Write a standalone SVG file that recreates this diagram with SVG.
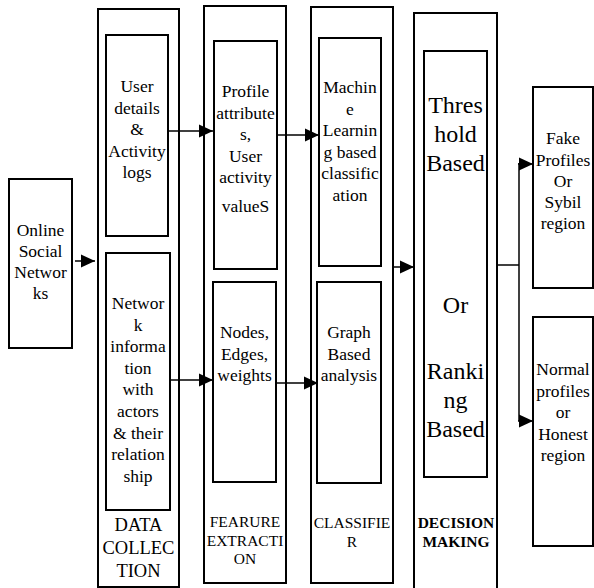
<svg xmlns="http://www.w3.org/2000/svg" width="594" height="588" viewBox="0 0 594 588">
<style>
  .box { fill: #fff; stroke: #000; stroke-width: 2; }
  .t { font-family: "Liberation Serif", "Times New Roman", serif; font-size: 17.5px; fill: #000; text-anchor: middle; }
  .big { font-size: 24px; }
  .lab { font-size: 15.5px; }
  .labb { font-size: 15.5px; font-weight: bold; }
  .dc { font-size: 18.5px; }
  .c { fill: none; stroke: #000; stroke-width: 1.5; }
</style>
<defs>
  <marker id="ah" viewBox="0 0 14 14" refX="14" refY="7" markerWidth="14" markerHeight="14" markerUnits="userSpaceOnUse" orient="auto">
    <path d="M0,0.5 L14,7 L0,13.5 z" fill="#000"/>
  </marker>
</defs>
<rect width="594" height="588" fill="#fff"/>

<g id="osn">
  <rect class="box" x="9" y="179" width="63" height="169"/>
  <text class="t" x="40.5" y="236">Online</text>
  <text class="t" x="40.5" y="257">Social</text>
  <text class="t" x="40.5" y="278">Networ</text>
  <text class="t" x="40.5" y="299">ks</text>
</g>

<g id="data-collection">
  <rect class="box" x="98" y="9" width="81" height="578"/>
  <text class="t dc" x="138.5" y="531">DATA</text>
  <text class="t dc" x="138.5" y="554">COLLEC</text>
  <text class="t dc" x="138.5" y="577">TION</text>
</g>
<g id="user-details">
  <rect class="box" x="106" y="35" width="62" height="201"/>
  <text class="t" x="137" y="92">User</text>
  <text class="t" x="137" y="113.5">details</text>
  <text class="t" x="137" y="135">&amp;</text>
  <text class="t" x="137" y="156.5">Activity</text>
  <text class="t" x="137" y="178">logs</text>
</g>
<g id="network-info">
  <rect class="box" x="106" y="253" width="64" height="257"/>
  <text class="t" x="138" y="309">Networ</text>
  <text class="t" x="138" y="330.6">k</text>
  <text class="t" x="138" y="352.2">informa</text>
  <text class="t" x="138" y="373.8">tion</text>
  <text class="t" x="138" y="395.4">with</text>
  <text class="t" x="138" y="417">actors</text>
  <text class="t" x="138" y="438.6">&amp; their</text>
  <text class="t" x="138" y="460.2">relation</text>
  <text class="t" x="138" y="481.8">ship</text>
</g>

<g id="feature-extraction">
  <rect class="box" x="204" y="6" width="82" height="577"/>
  <text class="t lab" x="245" y="527">FEARURE</text>
  <text class="t lab" x="245" y="545.5">EXTRACTI</text>
  <text class="t lab" x="245" y="564">ON</text>
</g>
<g id="profile-attributes">
  <rect class="box" x="214" y="41" width="63" height="228"/>
  <text class="t" x="245.5" y="97">Profile</text>
  <text class="t" x="245.5" y="118.5">attribute</text>
  <text class="t" x="245.5" y="140">s,</text>
  <text class="t" x="245.5" y="161.5">User</text>
  <text class="t" x="245.5" y="183">activity</text>
  <text class="t" x="245.5" y="212">valueS</text>
</g>
<g id="nodes-edges">
  <rect class="box" x="213" y="282" width="63" height="200"/>
  <text class="t" x="244.5" y="338">Nodes,</text>
  <text class="t" x="244.5" y="359.5">Edges,</text>
  <text class="t" x="244.5" y="381">weights</text>
</g>

<g id="classifier">
  <rect class="box" x="311" y="7" width="82" height="576"/>
  <text class="t lab" x="352" y="528">CLASSIFIE</text>
  <text class="t lab" x="352" y="547">R</text>
</g>
<g id="ml-classification">
  <rect class="box" x="319" y="38" width="62" height="228"/>
  <text class="t" x="350" y="93">Machin</text>
  <text class="t" x="350" y="114.5">e</text>
  <text class="t" x="350" y="136">Learnin</text>
  <text class="t" x="350" y="157.5">g based</text>
  <text class="t" x="350" y="179">classific</text>
  <text class="t" x="350" y="200.5">ation</text>
</g>
<g id="graph-analysis">
  <rect class="box" x="317" y="282" width="64" height="201"/>
  <text class="t" x="349" y="338">Graph</text>
  <text class="t" x="349" y="359.5">Based</text>
  <text class="t" x="349" y="381">analysis</text>
</g>

<g id="decision-making">
  <rect class="box" x="414" y="13" width="83" height="590"/>
  <text class="t labb" x="456" y="528">DECISION</text>
  <text class="t labb" x="456" y="546.5">MAKING</text>
</g>
<g id="threshold-ranking">
  <rect class="box" x="424" y="51" width="63" height="426"/>
  <text class="t big" x="455.5" y="113">Thres</text>
  <text class="t big" x="455.5" y="142">hold</text>
  <text class="t big" x="455.5" y="171">Based</text>
  <text class="t big" x="455.5" y="313">Or</text>
  <text class="t big" x="455.5" y="379">Ranki</text>
  <text class="t big" x="455.5" y="408">ng</text>
  <text class="t big" x="455.5" y="437">Based</text>
</g>

<g id="fake-profiles">
  <rect class="box" x="533" y="87" width="60" height="201"/>
  <text class="t" x="563" y="144">Fake</text>
  <text class="t" x="563" y="165.5">Profiles</text>
  <text class="t" x="563" y="187">Or</text>
  <text class="t" x="563" y="208">Sybil</text>
  <text class="t" x="563" y="229">region</text>
</g>
<g id="normal-profiles">
  <rect class="box" x="533" y="317" width="60" height="229"/>
  <text class="t" x="563" y="375">Normal</text>
  <text class="t" x="563" y="396.5">profiles</text>
  <text class="t" x="563" y="418">or</text>
  <text class="t" x="563" y="439.5">Honest</text>
  <text class="t" x="563" y="461">region</text>
</g>

<g id="connectors">
  <line class="c" x1="75" y1="261" x2="95" y2="261" marker-end="url(#ah)"/>
  <line class="c" x1="168" y1="131" x2="213" y2="131" marker-end="url(#ah)"/>
  <line class="c" x1="170" y1="380" x2="213" y2="380" marker-end="url(#ah)"/>
  <line class="c" x1="277" y1="135" x2="319" y2="135" marker-end="url(#ah)"/>
  <line class="c" x1="276" y1="383" x2="318" y2="383" marker-end="url(#ah)"/>
  <line class="c" x1="393" y1="267" x2="414" y2="267" marker-end="url(#ah)"/>
  <polyline class="c" points="497,265 519,265"/>
  <line class="c" x1="519" y1="163" x2="519" y2="421"/>
  <line class="c" x1="518" y1="164" x2="533" y2="164" marker-end="url(#ah)"/>
  <line class="c" x1="518" y1="421" x2="533" y2="421" marker-end="url(#ah)"/>
</g>
</svg>
